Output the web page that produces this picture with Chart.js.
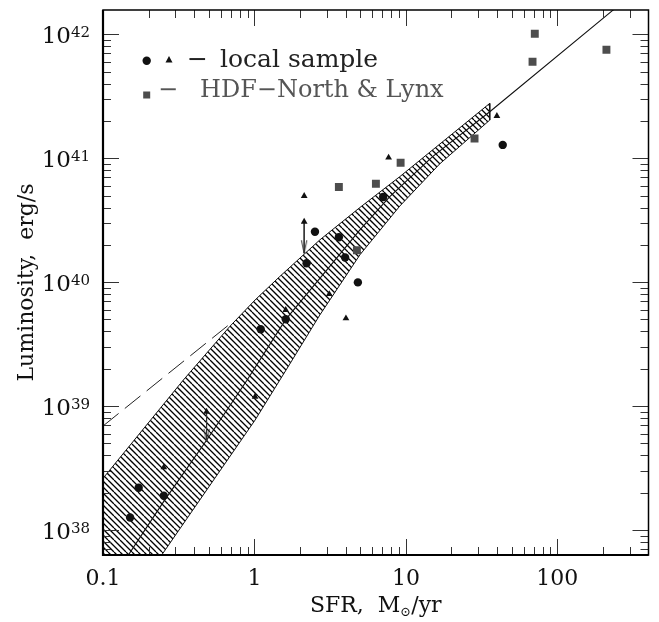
<!DOCTYPE html>
<html>
<head>
<meta charset="utf-8">
<script src="https://cdn.jsdelivr.net/npm/chart.js@4.4.0/dist/chart.umd.min.js"></script>
<style>
  html, body { margin: 0; padding: 0; background: #fff; }
  #wrap { width: 659px; height: 622px; }
</style>
</head>
<body>
<div id="wrap"><canvas id="myChart"></canvas></div>
<script>
// local sample: filled circles
const circleSfr = [0.151, 0.172, 0.252, 1.10, 1.61, 2.21, 2.51, 3.61, 3.97, 4.82, 7.08, 43.6];
const circleLum = [1.26e38, 2.19e38, 1.89e38, 4.16e39, 5.01e39, 1.42e40, 2.55e40, 2.30e40, 1.58e40, 9.95e39, 4.86e40, 1.28e41];

// local sample: triangles
const triangleSfr = [0.252, 0.483, 1.01, 1.61, 2.13, 2.13, 3.12, 4.02, 7.69, 39.9];
const triangleLum = [3.2e38, 9.0e38, 1.19e39, 5.96e39, 3.07e40, 4.96e40, 8.0e39, 5.1e39, 1.01e41, 2.19e41];

// HDF-North & Lynx: squares
const squareSfr = [3.61, 4.75, 6.34, 9.23, 28.4, 68.6, 71, 211];
const squareLum = [5.86e40, 1.81e40, 6.22e40, 9.2e40, 1.44e41, 6.0e41, 1.01e42, 7.5e41];

// upper limits (arrows)
const limitSfr = [0.483, 2.13];
const limitFrom = [9.0e38, 3.07e40];
const limitTo = [5.15e38, 1.71e40];

// most probable value (solid)
const medianSfr = [0.14, 0.147, 0.252, 0.483, 0.888, 1.61, 3.0, 4.97, 7.83, 15, 35.8, 231, 400];
const medianLum = [5.7e37, 6.27e37, 1.7e38, 5.3e38, 1.6e39, 5.0e39, 1.25e40, 2.64e40, 4.9e40, 1.03e41, 2.37e41, 1.55e42, 2.68e42];

// linear relation (dashed)
const dashedSfr = [0.1, 0.72];
const dashedLum = [6.9e38, 4.8e39];

// hatched band edges
const upperSfr = [0.09, 0.1, 0.339, 0.689, 1.01, 1.47, 2.70, 4.97, 9.12, 35.8];
const upperLum = [2.25e38, 2.61e38, 1.62e39, 4.4e39, 7.18e39, 1.11e40, 2.19e40, 4.0e40, 7.1e40, 2.77e41];
const lowerSfr = [35.8, 16.7, 9.12, 4.97, 2.70, 1.71, 1.01, 0.244, 0.09];
const lowerLum = [2.03e41, 8.98e40, 4.11e40, 1.66e40, 5.42e39, 2.18e39, 7.71e38, 6.27e37, 1.07e37];

// axes
const xTickValues = [0.1, 1, 10, 100];
const xTickLabels = ['0.1', '1', '10', '100'];
const yTickValues = [1e38, 1e39, 1e40, 1e41, 1e42];
const yTickExponents = ['38', '39', '40', '41', '42'];
const xMin = 0.1, xMax = 400;
const yMin = 6.28e37, yMax = 1.57e42;

const FONT = '"DejaVu Serif", serif';

function pts(xs, ys) {
    return xs.map((x, i) => ({ x: x, y: ys[i] }));
}

const canvas = document.getElementById('myChart');

function makeHatch() {
    const c = document.createElement('canvas');
    c.width = 12;
    c.height = 12;
    const g = c.getContext('2d');
    g.strokeStyle = '#000';
    g.lineWidth = 1.3;
    g.beginPath();
    for (const k of [-12, -6, 0, 6, 12]) {
        g.moveTo(k, 0);
        g.lineTo(k + 12, 12);
    }
    g.stroke();
    return canvas.getContext('2d').createPattern(c, 'repeat');
}

function makeArrowHead() {
    const c = document.createElement('canvas');
    c.width = 8;
    c.height = 32;
    const g = c.getContext('2d');
    g.strokeStyle = '#333';
    g.lineWidth = 1;
    g.beginPath();
    g.moveTo(1.3, 3);
    g.lineTo(4, 16);
    g.lineTo(6.7, 3);
    g.stroke();
    return c;
}

const arrowHead = makeArrowHead();

const arrowSets = limitSfr.map((x, i) => ({
    data: [{ x: x, y: limitFrom[i] }, { x: x, y: limitTo[i] }],
    showLine: true,
    borderColor: '#333',
    borderWidth: 1,
    pointRadius: [0, 3],
    pointStyle: ['circle', arrowHead],
    order: 3,
}));

const axesPlugin = {
    id: 'axesPlugin',
    afterDatasetsDraw(chart) {
        const ctx = chart.ctx;
        const a = chart.chartArea;
        const xs = chart.scales.x, ys = chart.scales.y;
        ctx.save();

        // ticks, all pointing inward
        ctx.strokeStyle = '#333';
        ctx.lineWidth = 1;
        ctx.beginPath();
        const xTick = (v, len) => {
            const px = Math.round(xs.getPixelForValue(v)) + 0.5;
            ctx.moveTo(px, a.bottom); ctx.lineTo(px, a.bottom - len);
            ctx.moveTo(px, a.top); ctx.lineTo(px, a.top + len);
        };
        const yTick = (v, len) => {
            const py = Math.round(ys.getPixelForValue(v)) + 0.5;
            ctx.moveTo(a.left, py); ctx.lineTo(a.left + len, py);
            ctx.moveTo(a.right, py); ctx.lineTo(a.right - len, py);
        };
        xTickValues.forEach(v => xTick(v, 16));
        yTickValues.forEach(v => yTick(v, 16));
        for (const d of xTickValues) {
            for (let m = 2; m <= 9; m++) {
                if (m * d < xMax) xTick(m * d, 8);
            }
        }
        for (let e = 37; e <= 42; e++) {
            for (let m = 2; m <= 9; m++) {
                const v = m * Math.pow(10, e);
                if (v > yMin && v < yMax) yTick(v, 8);
            }
        }
        ctx.stroke();

        // frame
        ctx.strokeStyle = '#000';
        ctx.lineWidth = 1.5;
        ctx.strokeRect(a.left, a.top, a.right - a.left, a.bottom - a.top);
        ctx.lineWidth = 2.2;
        ctx.beginPath();
        ctx.moveTo(a.left, a.top);
        ctx.lineTo(a.left, a.bottom);
        ctx.lineTo(a.right, a.bottom);
        ctx.stroke();

        // tick labels
        ctx.fillStyle = '#111';
        ctx.textBaseline = 'alphabetic';
        ctx.font = '22px ' + FONT;
        ctx.textAlign = 'center';
        xTickValues.forEach((v, i) => {
            ctx.fillText(xTickLabels[i], xs.getPixelForValue(v), a.bottom + 30);
        });
        yTickValues.forEach((v, i) => {
            const py = ys.getPixelForValue(v);
            ctx.font = '15px ' + FONT;
            const ew = ctx.measureText(yTickExponents[i]).width;
            ctx.textAlign = 'left';
            ctx.fillText(yTickExponents[i], 90 - ew, py + 3);
            ctx.font = '23px ' + FONT;
            ctx.textAlign = 'right';
            ctx.fillText('10', 90 - ew, py + 9);
        });

        // axis titles
        ctx.font = '22px ' + FONT;
        const t1 = 'SFR,  M', t2 = '\u2299', t3 = '/yr';
        const w1 = ctx.measureText(t1).width, w3 = ctx.measureText(t3).width;
        ctx.font = '13px ' + FONT;
        const w2 = ctx.measureText(t2).width;
        let tx = (a.left + a.right) / 2 - (w1 + w2 + w3) / 2;
        ctx.textAlign = 'left';
        ctx.font = '22px ' + FONT;
        ctx.fillText(t1, tx, 612);
        ctx.font = '13px ' + FONT;
        ctx.fillText(t2, tx + w1, 616);
        ctx.font = '22px ' + FONT;
        ctx.fillText(t3, tx + w1 + w2, 612);

        ctx.save();
        ctx.translate(33, (a.top + a.bottom) / 2);
        ctx.rotate(-Math.PI / 2);
        ctx.textAlign = 'center';
        ctx.fillText('Luminosity,  erg/s', 0, 0);
        ctx.restore();

        // legend
        ctx.fillStyle = '#111';
        ctx.beginPath();
        ctx.arc(146.7, 60.7, 4.2, 0, Math.PI * 2);
        ctx.fill();
        ctx.beginPath();
        ctx.moveTo(169, 56);
        ctx.lineTo(172.5, 62.5);
        ctx.lineTo(165.5, 62.5);
        ctx.closePath();
        ctx.fill();
        ctx.font = '25px ' + FONT;
        ctx.textAlign = 'left';
        ctx.fillStyle = '#222';
        ctx.fillText('\u2212', 187, 67);
        ctx.fillText('local sample', 220, 67);
        ctx.fillStyle = '#4d4d4d';
        ctx.fillRect(143.2, 91.5, 7, 7);
        ctx.font = '24px ' + FONT;
        ctx.fillStyle = '#555';
        ctx.fillText('\u2212', 158, 97);
        ctx.fillText('HDF\u2212North & Lynx', 200, 97);

        ctx.restore();
    }
};

const data = {
    datasets: [
        {
            label: 'circles',
            data: pts(circleSfr, circleLum),
            showLine: false,
            pointStyle: 'circle',
            pointRadius: 4.2,
            pointBorderWidth: 0,
            pointBackgroundColor: '#111',
            order: 1,
        },
        {
            label: 'triangles',
            data: pts(triangleSfr, triangleLum),
            showLine: false,
            pointStyle: 'triangle',
            pointRadius: 3.9,
            pointBorderWidth: 0,
            pointBackgroundColor: '#111',
            order: 1,
        },
        {
            label: 'squares',
            data: pts(squareSfr, squareLum),
            showLine: false,
            pointStyle: 'rect',
            pointRadius: 5.6,
            pointBorderWidth: 0,
            pointBackgroundColor: '#4d4d4d',
            order: 1,
        },
        ...arrowSets,
        {
            label: 'median',
            data: pts(medianSfr, medianLum),
            showLine: true,
            borderColor: '#111',
            borderWidth: 1.1,
            pointRadius: 0,
            order: 4,
        },
        {
            label: 'linear',
            data: pts(dashedSfr, dashedLum),
            showLine: true,
            borderColor: '#222',
            borderWidth: 1,
            borderDash: [20, 8],
            pointRadius: 0,
            order: 4,
        },
        {
            label: 'band',
            data: pts(upperSfr, upperLum).concat(pts(lowerSfr, lowerLum)),
            showLine: true,
            borderColor: '#111',
            borderWidth: 1,
            backgroundColor: makeHatch(),
            fill: 'shape',
            pointRadius: 0,
            order: 5,
        },
    ]
};

const config = {
    type: 'line',
    data: data,
    options: {
        responsive: true,
        maintainAspectRatio: false,
        animation: false,
        devicePixelRatio: 1,
        layout: { padding: { left: 103, top: 10, right: 10.5, bottom: 67 } },
        scales: {
            x: { type: 'logarithmic', min: xMin, max: xMax, display: false },
            y: { type: 'logarithmic', min: yMin, max: yMax, display: false },
        },
        plugins: {
            legend: { display: false },
            tooltip: { enabled: false },
        },
    },
    plugins: [axesPlugin],
};

const myChart = new Chart(canvas, config);
</script>
</body>
</html>
